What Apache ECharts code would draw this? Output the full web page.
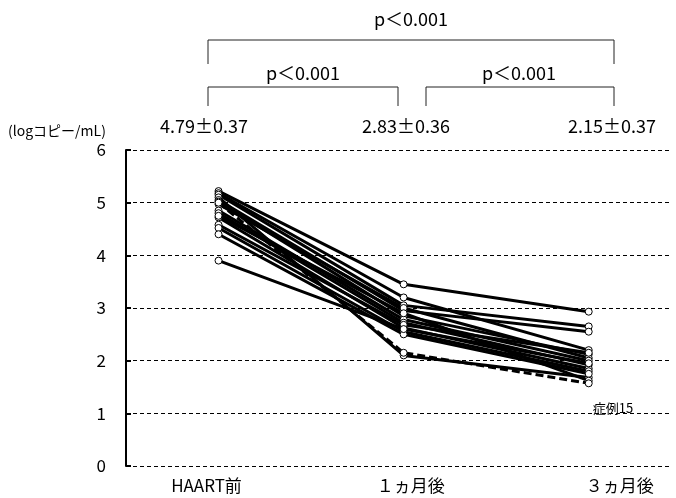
<!DOCTYPE html>
<html><head><meta charset="utf-8">
<script src="https://cdn.jsdelivr.net/npm/echarts@6/dist/echarts.min.js"></script>
<style>html,body{margin:0;padding:0;background:#fff}#c{width:676px;height:498px}</style>
</head><body><div id="c"></div>
<script>
var categories = ['HAART前', '１ヵ月後', '３ヵ月後'];
var yTicks = [0, 1, 2, 3, 4, 5, 6];
var meanLabels = ['4.79±0.37', '2.83±0.36', '2.15±0.37'];
var pLabels = ['p＜0.001', 'p＜0.001', 'p＜0.001'];
var yAxisName = '(logコピー/mL)';
var caseLabel = '症例15';

var p01 = [5.22, 3.45, 2.93];
var p02 = [5.18, 3.20, 2.20];
var p03 = [5.15, 3.05, 2.65];
var p04 = [5.10, 2.10, 1.68];
var p05 = [5.05, 2.95, 2.55];
var p06 = [5.02, 2.85, 2.12];
var p07 = [4.97, 3.00, 2.05];
var p08 = [4.85, 2.78, 2.00];
var p09 = [4.80, 2.72, 1.92];
var p10 = [4.72, 2.62, 1.85];
var p11 = [4.58, 2.68, 2.15];
var p12 = [4.52, 2.55, 1.80];
var p13 = [4.40, 2.50, 1.75];
var p14 = [3.90, 2.60, 1.95];
var p16 = [4.75, 2.90, 1.62];
var case15 = [5.00, 2.15, 1.57];

var patients = [p01, p02, p03, p04, p05, p06, p07, p08, p09, p10, p11, p12, p13, p14, p16];

function toPts(arr) { return arr.map(function (v, i) { return [i, v]; }); }

var FONT = '"Noto Sans CJK JP", "Noto Sans", sans-serif';

var series = patients.map(function (p) {
  return {
    type: 'line', data: toPts(p), symbol: 'circle', symbolSize: 7,
    lineStyle: { color: '#000', width: 3 },
    itemStyle: { color: '#fff', borderColor: '#000', borderWidth: 1 },
    silent: true, animation: false, z: 3
  };
});
series.push({
  type: 'line', data: toPts(case15), symbol: 'circle', symbolSize: 7,
  lineStyle: { color: '#000', width: 3, type: [8, 4] },
  itemStyle: { color: '#fff', borderColor: '#000', borderWidth: 1 },
  silent: true, animation: false, z: 4
});

var chart = echarts.init(document.getElementById('c'));
var rich = {
  l0: { fontSize: 17, fontFamily: FONT, color: '#000', padding: [0, 24, 0, 0] },
  l1: { fontSize: 17, fontFamily: FONT, color: '#000', padding: [0, 0, 0, 14] },
  l2: { fontSize: 17, fontFamily: FONT, color: '#000', padding: [0, 0, 0, 62] }
};

function bracket(x1, x2, yTop, yBot) {
  return {
    type: 'polyline',
    shape: { points: [[x1, yBot], [x1, yTop], [x2, yTop], [x2, yBot]] },
    style: { stroke: '#222', lineWidth: 1, fill: null }
  };
}
function txt(x, y, s, size, align) {
  return {
    type: 'text', x: x, y: y,
    style: { text: s, fontSize: size, fontFamily: FONT, fill: '#000', align: align || 'center', verticalAlign: 'middle' }
  };
}

chart.setOption({
  animation: false,
  grid: { left: 126, right: 4, top: 150, bottom: 32 },
  xAxis: {
    type: 'value', min: -0.5, max: 2.45,
    axisLine: { show: false }, axisTick: { show: false }, splitLine: { show: false },
    axisLabel: {
      customValues: [0, 1, 2], margin: 11,
      formatter: function (v) { var i = Math.round(v); return '{l' + i + '|' + categories[i] + '}'; },
      rich: rich
    }
  },
  yAxis: {
    type: 'value', min: 0, max: 6, interval: 1,
    axisLine: { show: true, onZero: false, lineStyle: { color: '#000', width: 2 } },
    axisTick: { show: true, inside: true, length: 5, lineStyle: { color: '#000', width: 2 } },
    axisLabel: { color: '#000', fontSize: 17, fontFamily: FONT, margin: 20,
      formatter: function (v) { return yTicks.indexOf(v) >= 0 ? String(v) : ''; } },
    splitLine: { show: true, lineStyle: { color: '#000', width: 1, type: [4, 3] } }
  },
  graphic: [
    txt(411, 19, pLabels[0], 18),
    bracket(208, 614, 40, 64),
    txt(303, 73, pLabels[1], 18),
    txt(519, 73, pLabels[2], 18),
    bracket(208, 398, 87, 106),
    bracket(426, 614, 87, 106),
    txt(204, 126, meanLabels[0], 18),
    txt(406, 126, meanLabels[1], 18),
    txt(612, 126, meanLabels[2], 18),
    txt(8, 131, yAxisName, 14, 'left'),
    txt(613, 408, caseLabel, 13)
  ],
  series: series
});
</script>
</body></html>
